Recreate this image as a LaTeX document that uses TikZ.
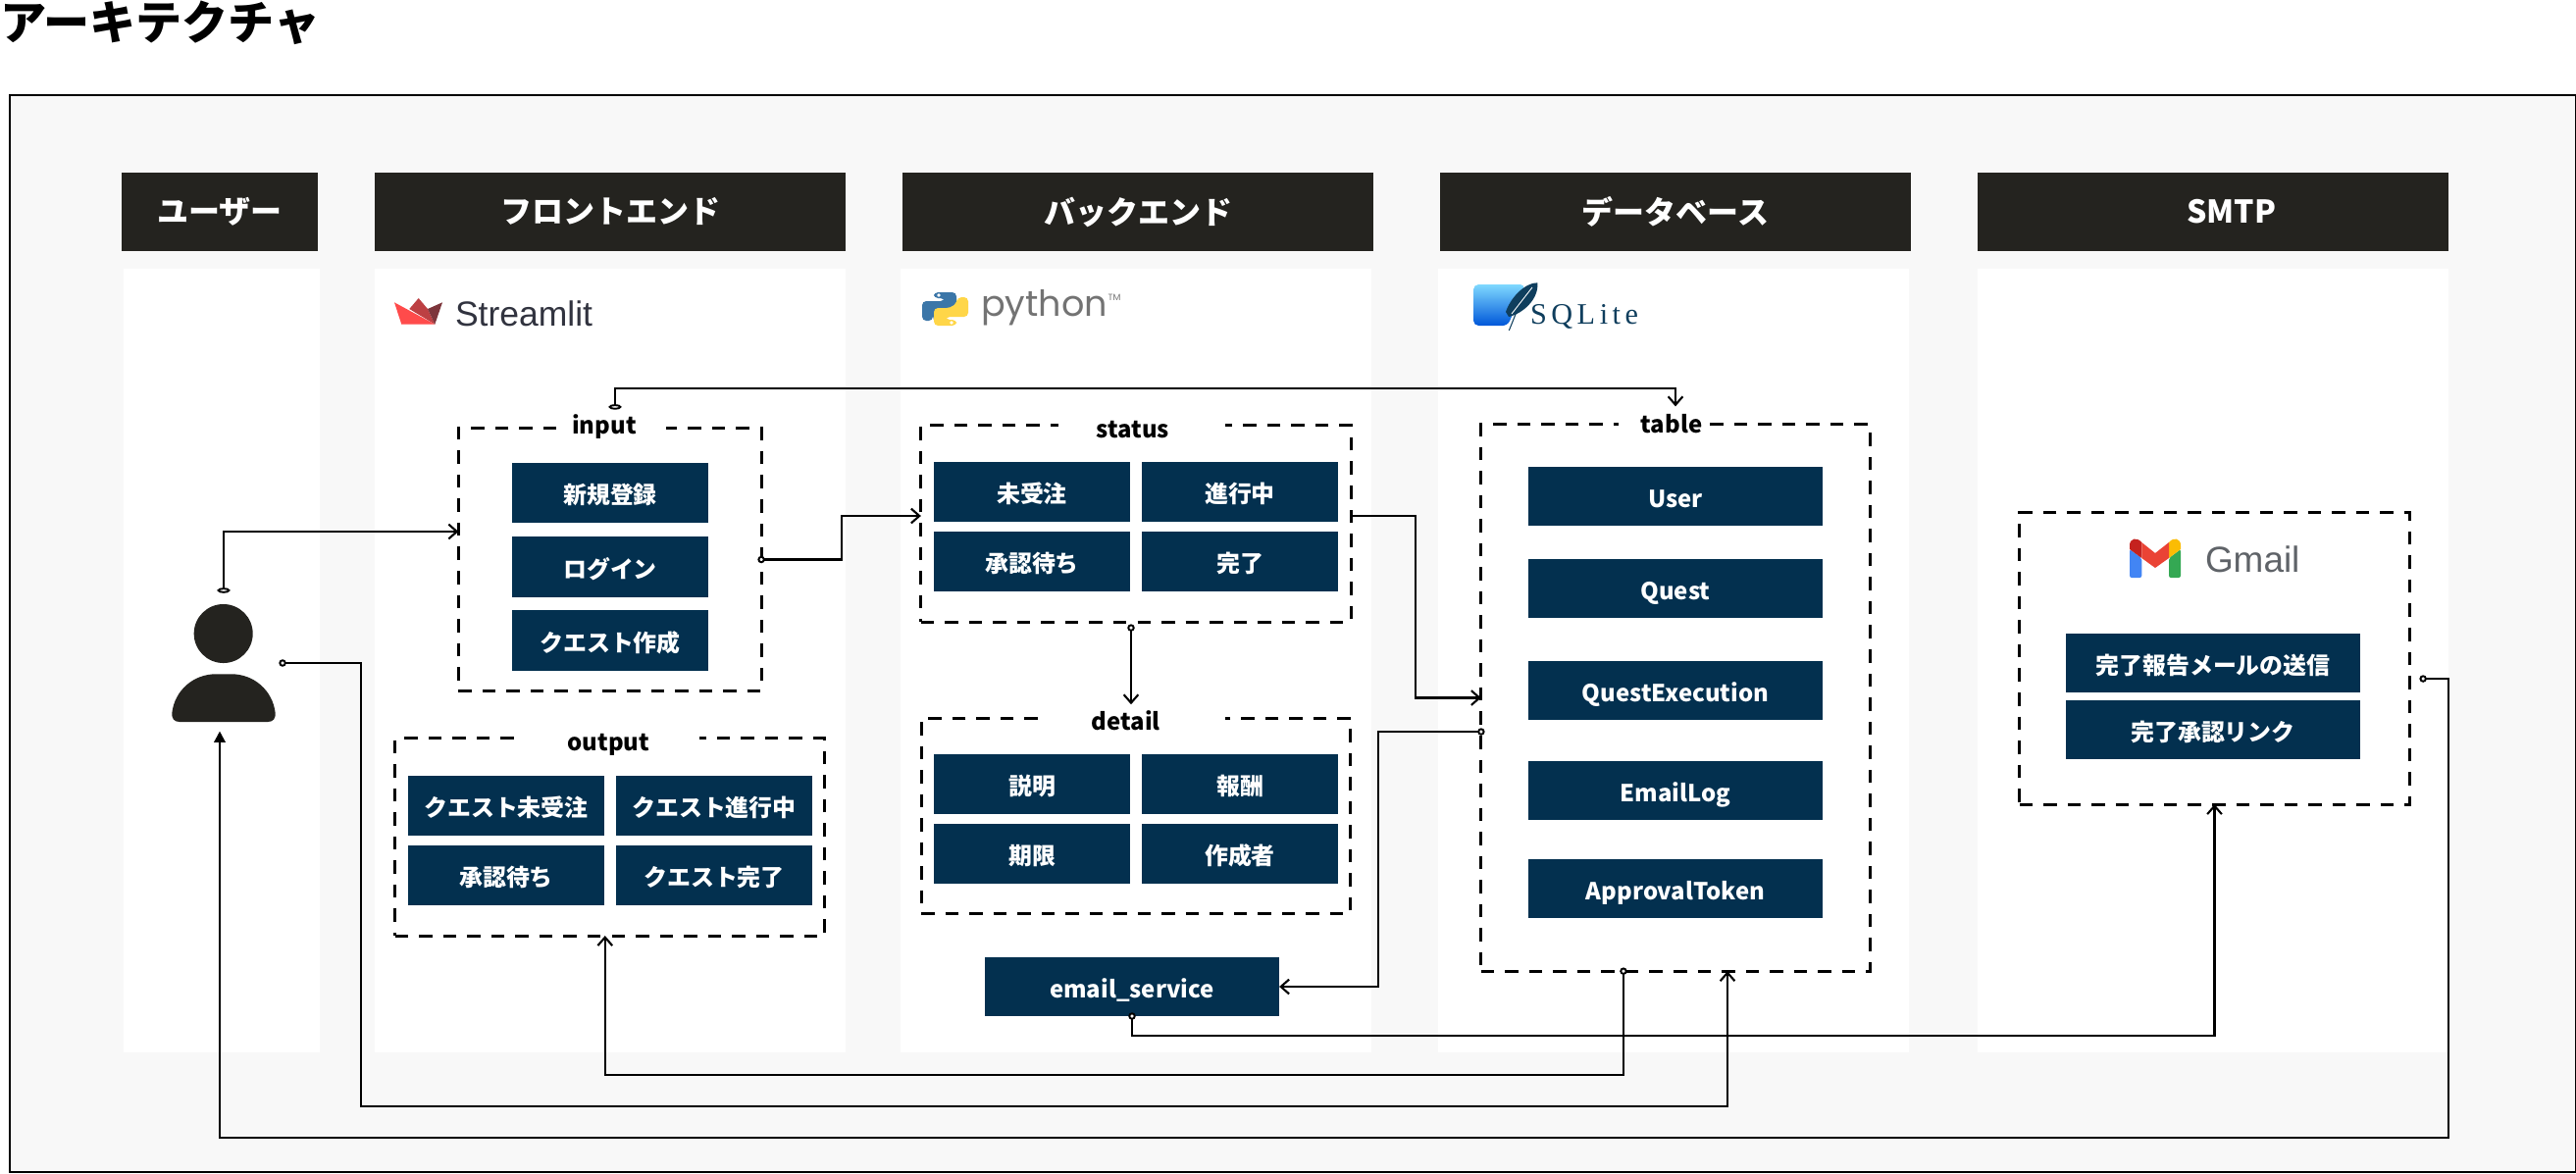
\documentclass[tikz,border=0pt]{standalone}
\usepackage{fontspec}
\setmainfont{Noto Sans CJK JP}
\newfontfamily\logofont{Liberation Sans}
\newfontfamily\pyfont{Poppins}
\newfontfamily\sqlfont[LetterSpace=15]{Liberation Serif}
\usetikzlibrary{arrows.meta,positioning}
\definecolor{barcol}{HTML}{24231F}
\definecolor{btncol}{HTML}{03304F}
\definecolor{panelcol}{HTML}{F8F8F8}
\definecolor{streamred}{HTML}{FF4B4B}
\definecolor{streammid}{HTML}{BD4043}
\definecolor{streamdark}{HTML}{7D353B}
\definecolor{streamtext}{HTML}{31333F}
\definecolor{pyblue}{HTML}{3B76A8}
\definecolor{pyyellow}{HTML}{FFD648}
\definecolor{sqlnavy}{HTML}{0F3E5D}
\definecolor{gmred}{HTML}{EA4335}
\definecolor{gmdark}{HTML}{C5221F}
\definecolor{gmblue}{HTML}{4285F4}
\definecolor{gmgreen}{HTML}{34A853}
\definecolor{gmyellow}{HTML}{FBBC04}
\definecolor{gmtext}{HTML}{5F6368}
\tikzset{
    every node/.style={outer sep=0pt},
    headbar/.style={fill=barcol,text=white,font=\bfseries\fontsize{9.1pt}{11pt}\selectfont,minimum width=4.8cm,minimum height=.8cm,inner sep=0pt},
    btn/.style={fill=btncol,text=white,font=\bfseries\fontsize{6.8pt}{8pt}\selectfont,minimum width=2cm,minimum height=.61cm,inner sep=0pt,text height=.23cm,text depth=.01cm},
    widebtn/.style={btn,minimum width=3cm,minimum height=.6cm},
    groupbox/.style={draw=black,line width=.85pt,dash pattern=on .135cm off .11cm,inner sep=0pt},
    grouptitle/.style={anchor=base,inner sep=0pt,font=\bfseries\fontsize{6.8pt}{8pt}\selectfont},
    conn/.style={line width=.65pt,-{Straight Barb[length=2.4pt,width=4.2pt,line width=.6pt]}},
    tailconn/.style={line width=.65pt,shorten <=-1.05pt,{Circle[open,fill=white,length=2.1pt,width=2.1pt,line width=.55pt]}-{Straight Barb[length=2.4pt,width=4.2pt,line width=.6pt]}},
    flattail/.style={line width=.65pt,shorten <=-.8pt,{Circle[open,fill=white,length=1.6pt,width=3.6pt,line width=.55pt]}-{Straight Barb[length=2.4pt,width=4.2pt,line width=.6pt]}}
}
\begin{document}
\begin{tikzpicture}[x=.01cm,y=-.01cm]
        \useasboundingbox (0,0) rectangle (2626,1196);
        \node[anchor=west,inner sep=0pt,font=\bfseries\fontsize{13.4pt}{15pt}\selectfont] (title) at (0,23) {アーキテクチャ};
        \node[draw=black,fill=panelcol,line width=.6pt,minimum width=26.14cm,minimum height=10.975cm,inner sep=0pt] (frame) at (1318,645.75) {};
        \fill[white] (126,274) rectangle (326,1073);
        \fill[white] (382,274) rectangle (862,1073);
        \fill[white] (918,274) rectangle (1398,1073);
        \fill[white] (1466,274) rectangle (1946,1073);
        \fill[white] (2016,274) rectangle (2496,1073);
        \node[headbar,minimum width=2cm] (hdruser) at (224,216) {ユーザー};
        \node[headbar] (hdrfront) at (622,216) {フロントエンド};
        \node[headbar] (hdrback) at (1160,216) {バックエンド};
        \node[headbar] (hdrdb) at (1708,216) {データベース};
        \node[headbar] (hdrsmtp) at (2256,216) {\hspace*{.37cm}SMTP};
        \fill[streamred] (402,308.3) -- (443.3,330.7) -- (409.3,330.7) -- cycle;
        \fill[streammid] (417.3,315) -- (426.7,304) -- (436,315) -- (443.3,330.7) -- cycle;
        \fill[streamdark] (436,315) -- (451,308.3) -- (443.3,330.7) -- cycle;
        \node[anchor=base west,inner sep=0pt,text=streamtext,font=\logofont\fontsize{10.1pt}{12pt}\selectfont] (stlogo) at (464,332) {Streamlit};
        \fill[pyblue,rounded corners=1.2pt] (952,298) -- (975,298) -- (975,316) -- (958,316) -- (951,322) -- (951,327) -- (940,327) -- (940,307) -- (963,307) -- (963,304) -- (952,304) -- cycle;
        \fill[pyyellow,rounded corners=1.2pt] (975,332) -- (952,332) -- (952,314) -- (969,314) -- (976,308) -- (976,303) -- (987,303) -- (987,323) -- (964,323) -- (964,326) -- (975,326) -- cycle;
        \fill[white] (957,301) circle (.018cm);
        \fill[white] (970,329) circle (.018cm);
        \node[anchor=base west,inner sep=0pt,text=black!55,font=\pyfont\fontsize{10.4pt}{12pt}\selectfont] (pylogo) at (1000,322) {python};
        \node[inner sep=0pt,text=black!55,font=\pyfont\fontsize{2.6pt}{3pt}\selectfont] (pytm) at (1136,303) {TM};
        \shade[top color=blue!30!cyan!50!white,bottom color=blue!60!cyan!85!black,rounded corners=1.5pt] (1502,290) -- (1555,290) -- (1537,332) -- (1502,332) -- cycle;
        \fill[sqlnavy] (1567.3,288.3) .. controls (1555,288) and (1540,303) .. (1535,318) -- (1538,323) .. controls (1552,320) and (1569,305) .. cycle;
        \draw[sqlnavy,line width=.3pt] (1552,303) -- (1538.3,337);
        \draw[white,line width=.25pt] (1562,293) -- (1541,320);
        \node[anchor=base west,inner sep=0pt,text=sqlnavy,font=\sqlfont\fontsize{8.6pt}{10pt}\selectfont] (sqllogo) at (1560,330) {SQLite};
        \node[minimum width=1.06cm,minimum height=1.2cm,inner sep=0pt] (pers) at (228,676) {};
        \fill[barcol] (227.7,646) circle (.3cm);
        \fill[barcol] (183,736) .. controls (177,736) and (175,732) .. (175.3,727) .. controls (178,704) and (197,687.3) .. (220,687.3) -- (236,687.3) .. controls (259,687.3) and (278,704) .. (280.7,727) .. controls (281,732) and (279,736) .. (273,736) -- cycle;
        \node[groupbox,minimum width=3.085cm,minimum height=2.67cm] (inbox) at (621.75,570.5) {};
        \node[groupbox,minimum width=4.376cm,minimum height=2.01cm] (outbox) at (621.8,853.5) {};
        \node[groupbox,minimum width=4.38cm,minimum height=2.004cm] (stbox) at (1158,533.8) {};
        \node[groupbox,minimum width=4.374cm,minimum height=1.994cm] (dtbox) at (1158,832) {};
        \node[groupbox,minimum width=3.96cm,minimum height=5.57cm] (tblbox) at (1708,711.5) {};
        \node[groupbox,minimum width=3.97cm,minimum height=2.97cm] (gmbox) at (2257.5,671.5) {};
        \fill[white] (567,430) rectangle (679,445);
        \fill[white] (531,746) rectangle (713,760);
        \fill[white] (1079,427) rectangle (1249,441);
        \fill[white] (1066.7,725) rectangle (1249,739);
        \fill[white] (1650,427) rectangle (1735,441);
        \node[grouptitle] (intitle) at (616,442) {input};
        \node[grouptitle] (outtitle) at (620.5,765.7) {output};
        \node[grouptitle] (sttitle) at (1155,446.6) {status};
        \node[grouptitle] (dttitle) at (1147.7,744) {detail};
        \node[grouptitle] (tbltitle) at (1704,441) {table};
        \node[btn] (signup) at (622,502.5) {新規登録};
        \node[btn] (login) at (622,578) {ログイン};
        \node[btn] (newquest) at (622,653) {クエスト作成};
        \node[btn] (qopen) at (516,821.5) {クエスト未受注};
        \node[btn] (qdoing) at (728,821.5) {クエスト進行中};
        \node[btn] (qwait) at (516,892.5) {承認待ち};
        \node[btn] (qdone) at (728,892.5) {クエスト完了};
        \node[btn] (stopen) at (1052,501.5) {未受注};
        \node[btn] (stdoing) at (1264,501.5) {進行中};
        \node[btn] (stwait) at (1052,572.5) {承認待ち};
        \node[btn] (stdone) at (1264,572.5) {完了};
        \node[btn] (dtdesc) at (1052,799.5) {説明};
        \node[btn] (dtpay) at (1264,799.5) {報酬};
        \node[btn] (dtdue) at (1052,870.5) {期限};
        \node[btn] (dtauth) at (1264,870.5) {作成者};
        \node[widebtn] (email) at (1154,1006) {email\_service};
        \node[widebtn] (tbluser) at (1708,506) {User};
        \node[widebtn] (tblquest) at (1708,600) {Quest};
        \node[widebtn] (tblexec) at (1708,704) {QuestExecution};
        \node[widebtn] (tbllog) at (1708,806) {EmailLog};
        \node[widebtn] (tbltoken) at (1708,906) {ApprovalToken};
        \fill[gmblue,rounded corners=.6pt] (2171,560) -- (2183.3,569) -- (2183.3,589) -- (2171,589) -- cycle;
        \fill[gmgreen,rounded corners=.6pt] (2223,560) -- (2211,569) -- (2211,589) -- (2223,589) -- cycle;
        \fill[gmdark] (2171,560) -- (2171,556) .. controls (2171,549) and (2178,547) .. (2183.3,553) -- (2183.3,569) -- cycle;
        \fill[gmyellow] (2223,560) -- (2223,556) .. controls (2223,549) and (2216,547) .. (2211,553) -- (2211,569) -- cycle;
        \fill[gmred] (2183.3,553) -- (2197,564) -- (2211,553) -- (2211,569) -- (2197,579) -- (2183.3,569) -- cycle;
        \node[anchor=base west,inner sep=0pt,text=gmtext,font=\logofont\fontsize{10.5pt}{12pt}\selectfont] (gmlogo) at (2248,583) {Gmail};
        \node[widebtn] (gmsend) at (2256,676) {完了報告メールの送信};
        \node[widebtn] (gmlink) at (2256,744) {完了承認リンク};
        \draw[flattail] ([xshift=.0525cm,yshift=.22cm]inbox.north) -- ++(0,-19) -| ([yshift=.185cm]tblbox.north);
        \draw[flattail] ([yshift=.14cm]pers.north) |- ([yshift=.285cm]inbox.west);
        \draw[tailconn] (inbox.east) -- ++(82,0) |- ([yshift=.078cm]stbox.west);
        \draw[conn] ([yshift=.078cm]stbox.east) -- ++(66,0) |- (tblbox.west);
        \draw[tailconn] ([xshift=-.05cm,yshift=-.06cm]stbox.south) -- ([xshift=-.05cm,yshift=.14cm]dtbox.north);
        \draw[tailconn] ([yshift=-.345cm]tblbox.west) -- ++(-105,0) |- (email.east);
        \draw[tailconn] ([xshift=.07cm]pers.east) -- ++(80.3,0) -- ++(0,452) -| ([xshift=.53cm]tblbox.south);
        \draw[tailconn] ([xshift=-.53cm]tblbox.south) -- ++(0,106) -| ([xshift=-.05cm]outbox.south);
        \draw[tailconn] (email.south) -- ++(0,20) -| (gmbox.south);
        \draw[line width=.65pt,shorten <=-1.05pt,{Circle[open,fill=white,length=2.1pt,width=2.1pt,line width=.55pt]}-{Triangle[length=3.2pt,width=3.2pt]}] ([xshift=.14cm,yshift=-.205cm]gmbox.east) -- ++(26,0) -- ++(0,468) -| ([xshift=-.04cm,yshift=-.095cm]pers.south);
    \end{tikzpicture}
\end{document}
